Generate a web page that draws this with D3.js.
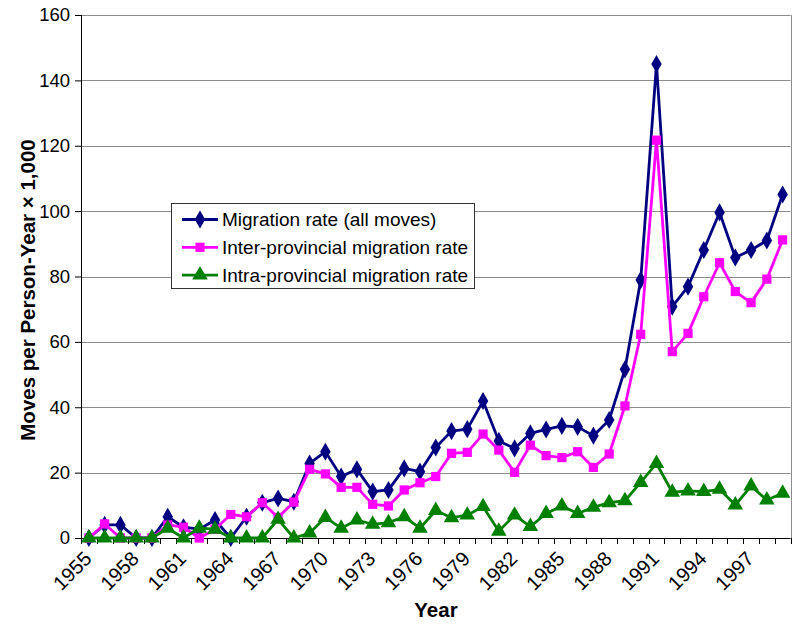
<!DOCTYPE html>
<html><head><meta charset="utf-8">
<script src="https://cdn.jsdelivr.net/npm/d3@7"></script>
<style>body{margin:0;background:#fff}svg{display:block}text{font-family:"Liberation Sans",Arial,sans-serif}</style>
</head><body><svg id="c" width="800" height="627"></svg>
<script>
const years = d3.range(1955, 2000);
const tickLabels = [1955,1958,1961,1964,1967,1970,1973,1976,1979,1982,1985,1988,1991,1994,1997];
const allMoves = [0,4,4,0,0,6.5,3.3,2.7,5.5,0,6.5,10.8,12.1,11.1,22.8,26.4,18.8,21,14.2,14.7,21.3,20.3,27.7,32.7,33.3,41.9,29.7,27.4,32,33.2,34.3,34,31.3,36.1,51.6,78.9,145,70.8,76.9,88.1,99.6,85.8,88.1,91,105.1];
const interProv = [0,4.3,0,0,0,4,3.3,0,2.7,7.2,6.5,10.8,6.3,11,21,19.6,15.5,15.5,10.3,9.8,14.7,16.9,18.8,25.9,26.2,31.8,26.9,20.1,28.4,25.2,24.6,26.4,21.6,25.7,40.4,62.3,121.7,57,62.6,73.8,84.2,75.4,72,79.2,91.2];
const intraProv = [0,0,0,0,0,3,0,3,2.7,0,0,0,5.7,0,1.5,6.3,3,5.5,4.2,4.7,6.5,3,8.4,6.2,7,9.6,2.1,7,3.5,7.5,9.8,7.5,9.4,10.8,11.4,17,22.8,14,14.4,14.2,14.9,10.1,15.9,11.6,13.7];
const seriesNames = ["Migration rate (all moves)","Inter-provincial migration rate","Intra-provincial migration rate"];
const seriesColors = ["#000080","#ff00ff","#008000"];
const yTicks = [0,20,40,60,80,100,120,140,160];

const svg = d3.select("#c");
const L = 81, R = 790.5, T = 15, B = 538;
const x = d3.scaleBand().domain(years).range([L, R]).padding(0);
const y = d3.scaleLinear().domain([0,160]).range([B, T]);
const FONT = '"Liberation Sans",Arial,sans-serif';

// gridlines
svg.append("g").selectAll("line").data(yTicks.filter(d=>d>0)).join("line")
  .attr("x1", L).attr("x2", R).attr("y1", d=>Math.round(y(d))+0.5).attr("y2", d=>Math.round(y(d))+0.5)
  .attr("stroke", "#8c8c8c").attr("stroke-width", 1);
// right border
svg.append("line").attr("x1", Math.round(R)+0.5).attr("x2", Math.round(R)+0.5).attr("y1", Math.round(T)).attr("y2", B)
  .attr("stroke", "#8c8c8c");

// y axis
const yAxis = svg.append("g").attr("transform", `translate(${L},0)`)
  .call(d3.axisLeft(y).tickValues(yTicks).tickSize(6).tickPadding(5));
yAxis.select(".domain").attr("stroke", "#000");
yAxis.selectAll(".tick line").attr("stroke", "#000");
yAxis.selectAll("text").attr("font-size", 18.5).attr("fill", "#000").style("font-family", FONT);

// x axis
const xAxis = svg.append("g").attr("transform", `translate(0,${B})`)
  .call(d3.axisBottom(x).tickValues(tickLabels).tickSize(0).tickPadding(0));
xAxis.select(".domain").remove();
xAxis.selectAll("text").attr("font-size", 20).attr("fill", "#000")
  .style("font-family", FONT)
  .attr("text-anchor", "end").attr("dy", null).attr("y", 0)
  .attr("transform", "translate(4,22) rotate(-45)");
svg.append("line").attr("x1", L).attr("x2", R).attr("y1", B+0.5).attr("y2", B+0.5).attr("stroke", "#000");
// boundary tick marks
svg.append("g").selectAll("line").data(years.concat([2000])).join("line")
  .attr("x1", d => Math.round(d===2000 ? R : x(d))+0.5).attr("x2", d => Math.round(d===2000 ? R : x(d))+0.5)
  .attr("y1", B).attr("y2", B+6).attr("stroke", "#000");
svg.append("line").attr("x1", L+0.5).attr("x2", L+0.5).attr("y1", T).attr("y2", B+0.5).attr("stroke","#000");

// series
const cx = d => x(d) + x.bandwidth()/2;
const data = [allMoves, interProv, intraProv];
const symbols = [d3.symbolDiamond, d3.symbolSquare, d3.symbolTriangle];
const sizes = [95, 85, 105];
const line = d3.line().x((d,i)=>cx(years[i])).y(d=>y(d));
data.forEach((vals, s) => {
  const g = svg.append("g");
  g.append("path").datum(vals).attr("d", line).attr("fill","none")
    .attr("stroke", seriesColors[s]).attr("stroke-width", 2.8).attr("stroke-linejoin","round");
  g.selectAll("path.m").data(vals).join("path").attr("class","m")
    .attr("transform", (d,i)=>`translate(${cx(years[i])},${y(d)})`)
    .attr("d", d3.symbol().type(symbols[s]).size(sizes[s]))
    .attr("fill", seriesColors[s]);
});

// legend
const lg = svg.append("g");
lg.append("rect").attr("x", 171.5).attr("y", 203.5).attr("width", 303).attr("height", 85)
  .attr("fill", "#fff").attr("stroke", "#333").attr("stroke-width", 1);
seriesNames.forEach((n, i) => {
  const yy = 219.5 + i*27.8;
  lg.append("line").attr("x1", 182).attr("x2", 218).attr("y1", yy).attr("y2", yy)
    .attr("stroke", seriesColors[i]).attr("stroke-width", 2.8);
  lg.append("path").attr("transform", `translate(200,${yy})`)
    .attr("d", d3.symbol().type(symbols[i]).size(sizes[i])).attr("fill", seriesColors[i]);
  lg.append("text").attr("x", 222).attr("y", yy).attr("dy", "0.35em")
    .attr("font-size", 19).attr("fill", "#000").text(n);
});

// axis titles
svg.append("text").attr("transform", "translate(35,290) rotate(-90)").attr("text-anchor","middle")
  .attr("font-size", 20.5).attr("font-weight","bold").text("Moves per Person-Year × 1,000");
svg.append("text").attr("x", 436).attr("y", 617).attr("text-anchor","middle")
  .attr("font-size", 20.5).attr("font-weight","bold").text("Year");
</script></body></html>
